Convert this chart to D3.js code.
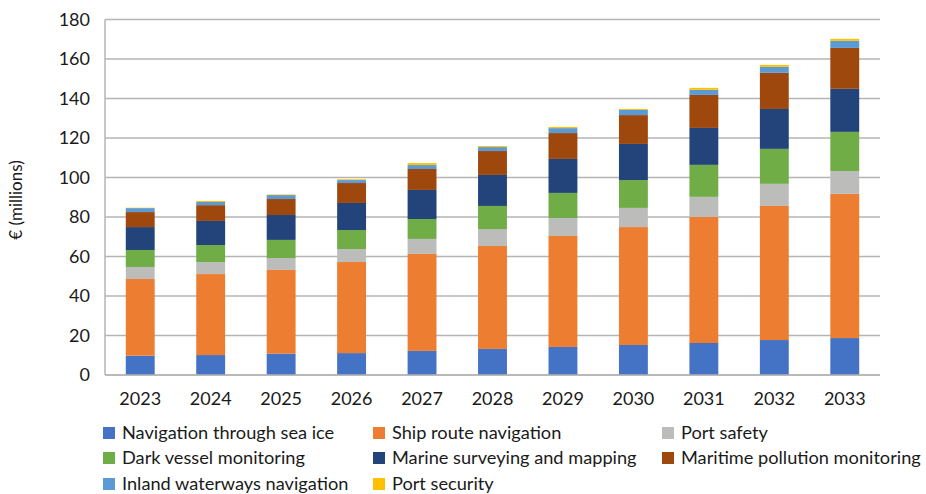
<!DOCTYPE html>
<html><head><meta charset="utf-8">
<script src="https://cdn.jsdelivr.net/npm/d3@7"></script>
<style>
body{margin:0;background:#fff;}
text{font-family:Lato,"Open Sans",sans-serif;fill:#1a1a1a;}
</style></head>
<body><svg id="c" width="926" height="494"></svg>
<script>
const years = ["2023","2024","2025","2026","2027","2028","2029","2030","2031","2032","2033"];
const seriesNames = ["Navigation through sea ice","Ship route navigation","Port safety","Dark vessel monitoring","Marine surveying and mapping","Maritime pollution monitoring","Inland waterways navigation","Port security"];
const seaIce      = [9.8,10.1,10.8,11.1,12.2,13.2,14.2,15.2,16.2,17.7,18.7];
const shipRoute   = [38.8,41.0,42.4,46.1,49.1,52.1,56.2,59.7,63.8,67.9,73.0];
const portSafety  = [6.1,6.1,6.0,6.6,7.6,8.6,9.1,9.7,10.2,11.2,11.6];
const darkVessel  = [8.6,8.6,9.2,9.6,10.1,11.7,12.7,14.1,16.2,17.7,19.8];
const surveying   = [11.6,12.2,12.6,13.7,14.7,15.7,17.2,18.3,18.7,20.2,21.8];
const pollution   = [7.6,8.0,8.1,10.1,10.6,12.1,13.1,14.6,16.7,18.3,20.7];
const inland      = [2.0,1.6,2.0,1.5,2.0,2.0,2.5,2.6,2.6,3.0,3.6];
const portSecurity= [0.2,0.5,0.3,0.4,1.0,0.5,0.6,0.5,1.0,1.0,1.0];
const yTicks = [0,20,40,60,80,100,120,140,160,180];
const colors = ["#4472C4","#ED7D31","#BCBCBB","#70AD47","#22447A","#9E480E","#5B9BD5","#FFC000"];

const allSeries = [seaIce,shipRoute,portSafety,darkVessel,surveying,pollution,inland,portSecurity];
const rows = years.map((y,i)=>{const o={year:y}; seriesNames.forEach((n,k)=>o[n]=allSeries[k][i]); return o;});
const stacked = d3.stack().keys(seriesNames)(rows);

const svg = d3.select("#c");
const m = {l:105,r:880,t:19.5,b:375};
const x = d3.scaleBand().domain(years).range([m.l,m.r]).paddingInner(0.59).paddingOuter(0.295);
const y = d3.scaleLinear().domain([0,180]).range([m.b,m.t]);

// gridlines
svg.append("g").selectAll("line").data(yTicks).join("line")
  .attr("x1",m.l).attr("x2",m.r).attr("y1",d=>y(d)).attr("y2",d=>y(d))
  .attr("stroke","#b4b4b4").attr("stroke-width",1.5);
svg.append("line").attr("x1",m.l).attr("x2",m.l).attr("y1",m.t).attr("y2",m.b)
  .attr("stroke","#b4b4b4").attr("stroke-width",1.5);

// bars
svg.append("g").selectAll("g").data(stacked).join("g")
  .attr("fill",(d,i)=>colors[i])
  .selectAll("rect").data(d=>d).join("rect")
  .attr("x",d=>x(d.data.year)).attr("width",x.bandwidth())
  .attr("y",d=>y(d[1])).attr("height",d=>Math.max(0,y(d[0])-y(d[1])));

// y axis
const ya = svg.append("g").attr("transform",`translate(${m.l},0)`)
  .call(d3.axisLeft(y).tickValues(yTicks).tickSize(0).tickPadding(15));
ya.select(".domain").remove();
ya.selectAll("text").attr("font-size",18).attr("font-family","Lato,'Open Sans',sans-serif").attr("fill","#1a1a1a");

// x axis
const xa = svg.append("g").attr("transform",`translate(0,${m.b})`)
  .call(d3.axisBottom(x).tickSize(0).tickPadding(17));
xa.select(".domain").attr("stroke","#b4b4b4").attr("stroke-width",1.5).attr("d",`M${m.l},0H${m.r}`);
xa.selectAll("text").attr("font-size",18).attr("font-family","Lato,'Open Sans',sans-serif").attr("fill","#1a1a1a");

// y title
svg.append("text").attr("transform","translate(22,200) rotate(-90)")
  .attr("text-anchor","middle").attr("font-size",17).text("€ (millions)");

// legend
const colX = [103,373,662];
const rowY = [433,458,484];
const lg = svg.append("g").selectAll("g").data(seriesNames).join("g")
  .attr("transform",(d,i)=>`translate(${colX[i%3]},${rowY[Math.floor(i/3)]})`);
lg.append("rect").attr("x",0).attr("y",-6).attr("width",12).attr("height",12).attr("fill",(d,i)=>colors[i]);
lg.append("text").attr("x",19).attr("y",0).attr("dy","0.35em").attr("font-size",18.2).text(d=>d);
</script></body></html>
